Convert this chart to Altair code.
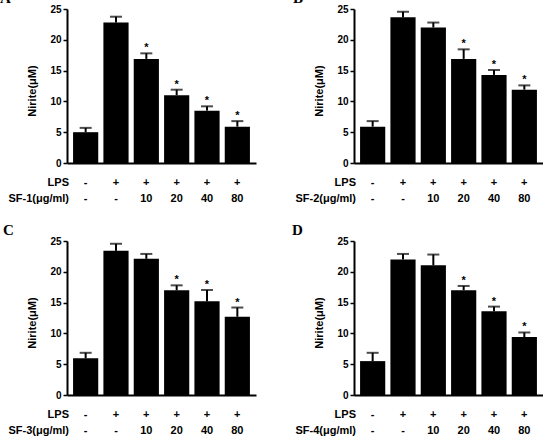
import altair as alt
import pandas as pd

# Treatment groups shown along the x axis
groups = ["g0", "g1", "g2", "g3", "g4", "g5"]
lps_row = ["-", "+", "+", "+", "+", "+"]
dose_row = ["-", "-", "10", "20", "40", "80"]

# Nitrite (µM): mean and SEM for each fraction
sf1_mean = [5.0, 22.8, 16.9, 11.0, 8.5, 5.9]
sf1_sem = [0.7, 0.95, 0.9, 0.9, 0.7, 0.9]
sf1_sig = ["", "", "*", "*", "*", "*"]

sf2_mean = [5.9, 23.65, 22.0, 16.9, 14.3, 11.9]
sf2_sem = [0.9, 0.9, 0.8, 1.55, 0.8, 0.7]
sf2_sig = ["", "", "", "*", "*", "*"]

sf3_mean = [5.95, 23.4, 22.1, 17.0, 15.2, 12.7]
sf3_sem = [0.9, 1.15, 0.8, 0.8, 1.85, 1.5]
sf3_sig = ["", "", "", "*", "*", "*"]

sf4_mean = [5.5, 22.0, 21.05, 17.0, 13.6, 9.4]
sf4_sem = [1.35, 0.9, 1.75, 0.7, 0.75, 0.75]
sf4_sig = ["", "", "", "*", "*", "*"]

W, H = 189, 154
FONT = "Liberation Sans"


def panel(letter, fraction, mean, sem, sig, letter_dx):
    df = pd.DataFrame({
        "group": groups,
        "mean": mean,
        "top": [m + s for m, s in zip(mean, sem)],
        "sig": sig,
        "lps": lps_row,
        "dose": dose_row,
    })
    x_axis = alt.Axis(labels=False, ticks=False, title=None,
                      domainColor="black", domainWidth=2)
    xs = alt.Scale(paddingInner=0.17, paddingOuter=0.2)
    x = alt.X("group:N", sort=groups, scale=xs, axis=x_axis)
    y_axis = alt.Axis(values=[0, 5, 10, 15, 20, 25], title=None, grid=False,
                      labelOverlap=False,
                      domainColor="black", domainWidth=2,
                      tickColor="black", tickWidth=1.5, tickSize=4,
                      labelFont=FONT, labelFontWeight="bold", labelFontSize=10,
                      labelColor="black", labelPadding=2)
    yscale = alt.Scale(domain=[0, 25], nice=False)

    def y(field):
        return alt.Y(field, type="quantitative", scale=yscale, axis=y_axis,
                     title=None)

    base = alt.Chart(df)

    bars = base.mark_bar(color="black").encode(x=x, y=y("mean"))
    err = base.mark_rule(color="black", strokeWidth=2).encode(
        x=x, y=y("mean"), y2="top:Q")
    cap = base.mark_tick(color="black", thickness=2, size=12,
                         orient="horizontal").encode(x=x, y=y("top"))
    star = base.mark_text(font=FONT, fontWeight="bold", fontSize=11,
                          baseline="alphabetic", dy=-2, color="black").encode(
        x=x, y=y("top"), text="sig:N")
    lps = base.mark_text(font=FONT, fontWeight="bold", fontSize=11,
                         baseline="middle", color="black").encode(
        x=x, y=alt.value(H + 20), text="lps:N")
    dose = base.mark_text(font=FONT, fontWeight="bold", fontSize=11,
                          baseline="middle", color="black").encode(
        x=x, y=alt.value(H + 36), text="dose:N")

    one = alt.Chart(pd.DataFrame({"k": [0]}))
    lps_title = one.mark_text(text="LPS", font=FONT, fontWeight="bold",
                              fontSize=11, align="right", baseline="middle",
                              color="black").encode(
        x=alt.value(2), y=alt.value(H + 20))
    dose_title = one.mark_text(text=f"{fraction}(μg/ml)", font=FONT,
                               fontWeight="bold", fontSize=11, align="right",
                               baseline="middle", color="black").encode(
        x=alt.value(2), y=alt.value(H + 36))
    y_title = one.mark_text(text="Nirite(μM)", font=FONT, fontWeight="bold",
                            fontSize=11, angle=270, align="center",
                            baseline="middle", color="black").encode(
        x=alt.value(-34), y=alt.value(H / 2 + 5))
    tag = one.mark_text(text=letter, font="Liberation Serif",
                        fontWeight="bold", fontSize=15, align="left",
                        baseline="alphabetic", color="black").encode(
        x=alt.value(letter_dx), y=alt.value(-6))

    return alt.layer(bars, err, cap, star, lps, dose,
                     lps_title, dose_title, y_title, tag).properties(
        width=W, height=H)


chart = alt.concat(
    panel("A", "SF-1", sf1_mean, sf1_sem, sf1_sig, -67),
    panel("B", "SF-2", sf2_mean, sf2_sem, sf2_sig, -61),
    panel("C", "SF-3", sf3_mean, sf3_sem, sf3_sig, -64),
    panel("D", "SF-4", sf4_mean, sf4_sem, sf4_sig, -62),
    columns=2,
    spacing={"row": 78, "column": 98},
    bounds="flush",
).properties(
    padding={"left": 0, "top": -9, "right": 0, "bottom": 0},
    background="white",
).configure_view(stroke=None)

chart.save("out.html", embed_options={"renderer": "svg", "actions": False})
